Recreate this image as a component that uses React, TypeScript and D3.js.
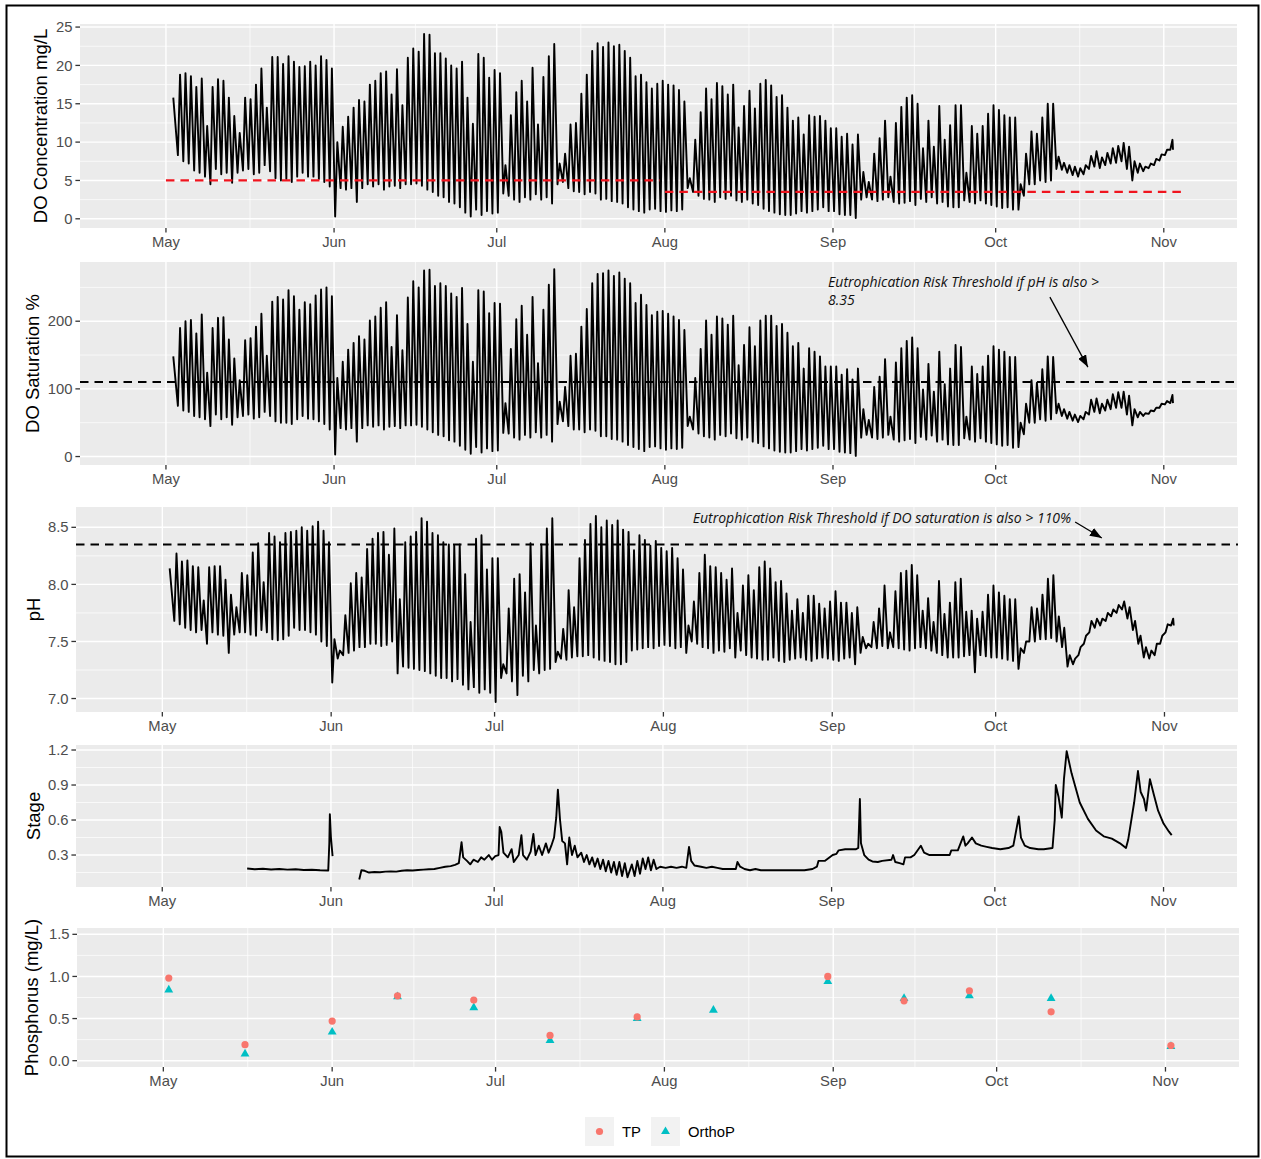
import React from 'react';
import * as d3 from 'd3';

// ---------- readings taken off the figure (day 0 = 1 May) ----------

// one early-morning low and one afternoon high per day, 3 May (day 2) .. 3 Nov
const cycleFirstDay = 2;
const firstReadingDay = 1.35;

const doConcFirst = 15.8;
const doConcLast = 9.0;
const doConcHigh = [
  18.8, 19.0, 18.6, 17.2, 18.3, 12.1, 17.2, 18.2, 18.0, 15.8,
  13.4, 11.2, 15.8, 15.6, 17.5, 19.6, 14.5, 21.1, 21.1, 20.2,
  21.2, 20.5, 19.8, 19.9, 20.5, 20.0, 21.2, 20.7, 19.6, 10.0,
  12.0, 13.3, 14.5, 15.5, 15.3, 17.5, 18.0, 19.0, 19.2, 16.2,
  19.5, 14.8, 21.0, 22.2, 21.8, 24.1, 24.0, 21.6, 21.6, 20.9,
  20.0, 19.6, 20.5, 15.8, 12.4, 21.5, 21.0, 18.4, 19.4, 19.0,
  7.0, 13.5, 16.5, 18.0, 15.3, 19.7, 12.3, 18.5, 21.2, 22.8,
  7.2, 8.5, 12.3, 12.5, 16.3, 18.8, 21.9, 22.9, 22.4, 23.0,
  22.5, 22.7, 21.9, 21.0, 18.6, 18.8, 17.8, 17.0, 17.6, 18.0,
  17.5, 17.4, 16.8, 15.3, 5.3, 10.3, 13.9, 17.0, 15.6, 17.7,
  17.3, 16.2, 17.5, 11.9, 14.7, 16.7, 14.4, 17.6, 18.1, 17.4,
  15.9, 16.1, 14.5, 12.8, 13.2, 11.0, 13.5, 13.3, 13.4, 12.8,
  11.8, 11.8, 10.7, 11.1, 9.7, 11.0, 6.1, 4.8, 8.5, 10.5,
  12.8, 5.5, 12.5, 14.6, 15.8, 16.1, 15.0, 9.2, 12.8, 9.4,
  14.7, 10.3, 12.2, 14.8, 14.8, 6.0, 12.1, 11.1, 12.1, 13.7,
  14.8, 14.2, 13.5, 13.2, 13.2, 4.5, 8.5, 11.4, 11.1, 13.2,
  15.0, 15.0, 8.1, 7.3, 7.0, 6.8, 6.6, 7.0, 8.2, 8.8,
  8.0, 8.6, 9.2, 9.5, 9.9, 9.4, 7.5, 7.2, 6.8, 7.2,
  7.8, 8.4, 9.0, 10.3,
];
const doConcLow = [
  8.3, 7.5, 7.2, 6.3, 6.0, 5.5, 4.5, 6.5, 5.8, 6.0,
  4.7, 6.0, 6.3, 6.5, 5.8, 6.0, 7.0, 6.2, 5.3, 5.0,
  5.2, 4.8, 5.5, 6.0, 5.5, 5.5, 5.2, 4.8, 4.2, 0.3,
  4.0, 3.8, 4.0, 2.2, 4.0, 4.5, 4.2, 4.5, 3.8, 4.2,
  4.3, 4.0, 4.5, 4.5, 4.6, 4.3, 3.8, 3.5, 3.0, 2.8,
  2.2, 2.0, 1.5, 0.8, 0.3, 1.2, 0.5, 1.0, 0.7, 0.8,
  3.3, 3.0, 2.5, 2.2, 2.8, 2.5, 3.2, 2.5, 2.8, 2.0,
  4.5, 4.8, 4.0, 3.6, 3.5, 3.2, 3.5, 3.3, 2.5, 2.6,
  2.3, 2.2, 2.0, 1.5, 1.2, 1.0, 0.8, 1.2, 1.3, 1.0,
  0.9, 1.1, 1.0, 1.2, 4.0, 3.5, 3.0, 2.6, 2.5, 2.2,
  2.8, 2.6, 3.0, 2.4, 2.2, 2.5, 2.0, 1.8, 1.3, 1.0,
  0.8, 0.6, 0.5, 0.5, 0.7, 1.0, 0.8, 1.0, 1.2, 1.5,
  1.0, 1.0, 0.6, 0.5, 0.5, 0.1, 2.5, 2.8, 2.5, 2.3,
  2.5, 2.8, 2.2, 2.0, 2.1, 2.3, 1.8, 2.6, 2.2, 2.8,
  2.0, 2.2, 1.6, 1.5, 1.5, 2.4, 2.2, 2.0, 2.4, 2.0,
  1.8, 1.6, 1.4, 1.5, 1.2, 1.2, 3.0, 4.5, 4.5, 5.0,
  4.8, 5.0, 6.5, 6.4, 6.0, 5.7, 5.5, 5.8, 6.5, 6.8,
  6.6, 7.0, 7.2, 7.3, 7.5, 6.5, 5.0, 6.0, 6.2, 6.6,
  7.0, 7.6, 8.3, 9.0,
];

const doSatFirst = 148;
const doSatLast = 79;
const doSatHigh = [
  190, 200, 202, 182, 210, 124, 190, 205, 206, 173,
  145, 113, 172, 175, 192, 211, 149, 229, 236, 232,
  246, 237, 217, 228, 225, 238, 247, 250, 237, 116,
  140, 158, 168, 178, 173, 201, 207, 220, 228, 162,
  209, 157, 235, 259, 250, 275, 276, 252, 256, 252,
  241, 236, 249, 196, 140, 246, 244, 212, 227, 226,
  79, 159, 203, 223, 180, 236, 138, 217, 254, 277,
  81, 103, 149, 152, 192, 218, 256, 270, 271, 275,
  267, 272, 263, 256, 227, 239, 224, 209, 214, 215,
  211, 207, 202, 187, 59, 116, 159, 201, 180, 207,
  204, 195, 208, 135, 165, 191, 163, 201, 208, 208,
  193, 196, 183, 163, 168, 130, 160, 155, 148, 133,
  133, 133, 121, 129, 114, 130, 70, 54, 103, 118,
  144, 59, 139, 160, 171, 176, 160, 99, 137, 96,
  155, 107, 130, 165, 162, 59, 133, 122, 133, 149,
  163, 158, 155, 147, 147, 50, 78, 113, 109, 129,
  148, 147, 78, 70, 66, 62, 60, 66, 84, 86,
  78, 84, 92, 95, 96, 90, 70, 66, 64, 68,
  72, 78, 82, 91,
];
const doSatLow = [
  75, 68, 66, 60, 58, 55, 45, 62, 55, 58,
  47, 58, 60, 62, 56, 58, 66, 60, 52, 50,
  50, 48, 55, 60, 56, 55, 52, 48, 40, 3,
  42, 40, 42, 22, 42, 46, 44, 46, 40, 44,
  45, 42, 46, 46, 47, 44, 40, 36, 32, 30,
  24, 22, 16, 10, 4, 14, 6, 12, 8, 9,
  35, 34, 28, 25, 32, 28, 36, 28, 32, 22,
  48, 52, 45, 40, 40, 36, 40, 38, 30, 30,
  26, 25, 22, 17, 14, 11, 8, 14, 15, 12,
  10, 12, 11, 13, 45, 40, 34, 30, 28, 25,
  32, 30, 34, 27, 25, 28, 22, 20, 15, 12,
  9, 7, 6, 6, 8, 11, 9, 11, 13, 16,
  11, 11, 7, 6, 5, 1, 28, 32, 28, 26,
  28, 32, 25, 22, 24, 26, 20, 29, 25, 31,
  22, 25, 18, 17, 17, 27, 25, 22, 27, 22,
  20, 18, 16, 17, 13, 14, 33, 50, 50, 55,
  53, 55, 64, 60, 56, 53, 51, 55, 62, 66,
  64, 68, 70, 72, 72, 62, 46, 58, 60, 63,
  67, 72, 77, 79,
];

const phFirst = 8.14;
const phLast = 7.64;
const phHigh = [
  8.27, 8.20, 8.21, 8.16, 8.15, 7.86, 8.15, 8.16, 8.16, 8.04,
  7.91, 7.80, 8.10, 8.08, 8.28, 8.36, 8.02, 8.45, 8.42, 8.37,
  8.45, 8.46, 8.47, 8.50, 8.47, 8.51, 8.55, 8.47, 8.37, 7.52,
  7.42, 7.73, 8.01, 8.10, 8.06, 8.31, 8.40, 8.45, 8.46, 8.26,
  8.49, 7.87, 8.37, 8.42, 8.46, 8.58, 8.55, 8.45, 8.43, 8.37,
  8.35, 8.34, 8.35, 8.09, 7.67, 8.40, 8.43, 8.13, 8.23, 8.23,
  7.30, 7.79, 8.05, 8.09, 7.93, 8.36, 7.64, 8.35, 8.49, 8.58,
  7.41, 7.61, 7.95, 7.80, 8.23, 8.39, 8.53, 8.60, 8.50, 8.56,
  8.52, 8.56, 8.48, 8.46, 8.30, 8.43, 8.39, 8.34, 8.38, 8.32,
  8.29, 8.32, 8.23, 8.13, 7.64, 7.85, 8.10, 8.26, 8.16, 8.15,
  8.10, 8.04, 8.14, 7.75, 7.99, 8.08, 7.95, 8.15, 8.20, 8.14,
  8.02, 8.03, 7.92, 7.77, 7.87, 7.75, 7.90, 7.90, 7.83, 7.79,
  7.85, 7.94, 7.84, 7.84, 7.75, 7.80, 7.54, 7.48, 7.67, 7.79,
  7.99, 7.58, 7.94, 8.10, 8.12, 8.17, 8.08, 7.77, 7.88, 7.67,
  8.03, 7.74, 7.84, 8.02, 8.05, 7.76, 7.77, 7.70, 7.76, 7.91,
  7.99, 7.93, 7.90, 7.87, 7.87, 7.44, 7.50, 7.80, 7.79, 7.91,
  8.05, 8.08, 7.72, 7.62, 7.38, 7.35, 7.45, 7.55, 7.68, 7.70,
  7.70, 7.75, 7.78, 7.82, 7.85, 7.80, 7.68, 7.55, 7.45, 7.42,
  7.48, 7.55, 7.65, 7.70,
];
const phLow = [
  7.68, 7.65, 7.62, 7.60, 7.58, 7.60, 7.48, 7.58, 7.56, 7.55,
  7.40, 7.56, 7.58, 7.58, 7.56, 7.55, 7.60, 7.58, 7.52, 7.51,
  7.52, 7.55, 7.62, 7.60, 7.60, 7.58, 7.56, 7.50, 7.46, 7.14,
  7.35, 7.38, 7.40, 7.42, 7.45, 7.45, 7.48, 7.48, 7.46, 7.47,
  7.50, 7.22, 7.28, 7.27, 7.26, 7.25, 7.24, 7.22, 7.20, 7.18,
  7.18, 7.15, 7.17, 7.12, 7.08, 7.10, 7.05, 7.08, 7.05, 6.97,
  7.18, 7.22, 7.15, 7.03, 7.20, 7.15, 7.25, 7.22, 7.25, 7.26,
  7.32, 7.35, 7.34, 7.36, 7.37, 7.37, 7.38, 7.36, 7.34, 7.33,
  7.32, 7.30, 7.30, 7.32, 7.42, 7.43, 7.44, 7.45, 7.44, 7.46,
  7.47, 7.46, 7.44, 7.45, 7.40, 7.50, 7.48, 7.45, 7.44, 7.40,
  7.42, 7.41, 7.44, 7.36, 7.42, 7.38, 7.36, 7.35, 7.34, 7.34,
  7.36, 7.33, 7.32, 7.34, 7.35, 7.36, 7.34, 7.33, 7.35, 7.36,
  7.35, 7.34, 7.33, 7.35, 7.36, 7.30, 7.40, 7.44, 7.45, 7.44,
  7.46, 7.44, 7.45, 7.44, 7.43, 7.42, 7.44, 7.45, 7.44, 7.42,
  7.40, 7.38, 7.36, 7.36, 7.36, 7.37, 7.38, 7.23, 7.38, 7.37,
  7.36, 7.36, 7.35, 7.34, 7.33, 7.26, 7.40, 7.50, 7.50, 7.52,
  7.52, 7.53, 7.50, 7.45, 7.28, 7.30, 7.38, 7.48, 7.58, 7.62,
  7.64, 7.68, 7.72, 7.75, 7.78, 7.70, 7.60, 7.48, 7.36, 7.35,
  7.38, 7.48, 7.58, 7.64,
];

// stage logger (null = gap in record)
const stageDay = [
  15.6, 17.0, 18.5, 20.0, 21.5, 23.0, 24.5, 26.0, 27.5, 29.0, 30.5, 30.7, 30.8, 31.0, 31.3,
  33.0,
  36.2, 36.6, 37.2, 38.0, 39.0, 40.0, 41.0, 42.0, 43.0, 44.0, 45.0, 46.0, 47.0, 48.0, 49.0,
  50.0, 51.0, 52.0, 53.0, 53.8, 54.5, 55.0, 55.3, 56.0, 56.6, 57.2, 58.0, 58.6, 59.2, 60.0,
  60.6, 61.2, 61.8, 62.0, 62.3, 62.7, 63.5, 64.2, 64.6, 65.5, 66.0, 66.3, 67.0, 67.7, 68.2,
  68.6, 69.2, 69.8, 70.5, 71.0, 71.5, 72.0, 72.4, 72.7, 73.1, 73.5, 74.0, 74.4, 74.8, 75.3,
  75.8, 76.3, 77.0, 77.5, 78.0, 78.5, 79.0, 79.5, 80.0, 80.5, 81.0, 81.5, 82.0, 82.5, 83.0,
  83.5, 84.0, 84.5, 85.0, 85.5, 86.3, 86.8, 87.3, 87.8, 88.3, 88.8, 89.3, 89.8, 90.3, 90.8,
  91.5, 92.5, 93.5, 94.5, 95.5, 96.3, 96.8, 97.2, 97.8, 99.0, 100.0, 101.0, 102.0, 103.0,
  104.0, 105.4, 105.7, 106.2, 107.0, 108.0, 109.0, 110.0, 112.0, 114.0, 116.0, 118.0, 119.5,
  120.3, 120.6, 121.8, 123.2, 123.9, 124.3, 125.5, 127.5, 127.9, 128.2, 128.4, 129.0, 129.8,
  130.5, 131.5, 132.3, 134.0, 134.3, 134.7, 135.5, 136.2, 136.5, 137.5, 138.2, 139.4, 140.0,
  141.0, 143.0, 144.7, 145.0, 146.2, 147.2, 147.6, 148.0, 148.8, 149.5, 150.5, 151.5, 152.5,
  154.0, 155.5, 156.4, 157.4, 157.8, 158.5, 159.5, 161.0, 162.0, 163.6, 164.0, 164.2, 164.7,
  165.3, 165.7, 166.2, 167.1, 168.6, 170.1, 171.6, 173.0, 174.5, 176.0, 177.1, 177.5, 178.6,
  179.3, 179.8, 180.4, 180.8, 181.5, 182.2, 183.0, 184.0, 185.0, 185.5,
];
const stageValue = [
  0.185, 0.178, 0.182, 0.176, 0.180, 0.175, 0.178, 0.172, 0.174, 0.170, 0.168, 0.40, 0.65, 0.45, 0.29,
  null,
  0.09, 0.17, 0.165, 0.150, 0.155, 0.152, 0.158, 0.160, 0.158, 0.165, 0.170, 0.168, 0.172, 0.175, 0.178,
  0.180, 0.190, 0.200, 0.205, 0.215, 0.230, 0.41, 0.28, 0.25, 0.22, 0.26, 0.24, 0.28, 0.26, 0.30,
  0.26, 0.29, 0.30, 0.54, 0.50, 0.32, 0.28, 0.35, 0.24, 0.30, 0.47, 0.30, 0.26, 0.33, 0.48,
  0.30, 0.38, 0.30, 0.40, 0.32, 0.38, 0.45, 0.62, 0.86, 0.60, 0.42, 0.40, 0.22, 0.45, 0.30,
  0.38, 0.28, 0.32, 0.24, 0.30, 0.22, 0.28, 0.20, 0.27, 0.18, 0.26, 0.16, 0.25, 0.15, 0.24,
  0.13, 0.24, 0.12, 0.23, 0.11, 0.22, 0.12, 0.25, 0.14, 0.27, 0.18, 0.28, 0.17, 0.26, 0.18,
  0.20, 0.19, 0.20, 0.19, 0.20, 0.19, 0.37, 0.25, 0.21, 0.20, 0.19, 0.20, 0.19, 0.18,
  0.18, 0.18, 0.24, 0.20, 0.18, 0.17, 0.18, 0.17, 0.17, 0.17, 0.17, 0.17, 0.18,
  0.20, 0.25, 0.25, 0.30, 0.31, 0.34, 0.35, 0.35, 0.36, 0.78, 0.40, 0.30, 0.26,
  0.245, 0.24, 0.25, 0.26, 0.30, 0.24, 0.23, 0.22, 0.28, 0.28, 0.30, 0.38, 0.32,
  0.30, 0.30, 0.30, 0.34, 0.34, 0.46, 0.38, 0.40, 0.45, 0.40, 0.38, 0.37, 0.36,
  0.35, 0.36, 0.38, 0.63, 0.45, 0.38, 0.36, 0.35, 0.35, 0.36, 0.60, 0.90, 0.80,
  0.62, 0.95, 1.19, 1.00, 0.75, 0.61, 0.51, 0.46, 0.44, 0.40, 0.36, 0.43, 0.75,
  1.02, 0.84, 0.78, 0.68, 0.95, 0.82, 0.68, 0.57, 0.50, 0.47,
];

// grab samples
const sampleDates = [
  '2022-05-02', '2022-05-16', '2022-06-01', '2022-06-13', '2022-06-27', '2022-07-11', '2022-07-27',
  '2022-08-10', '2022-08-31', '2022-09-14', '2022-09-26', '2022-10-11', '2022-11-02',
];
const tpValues = [0.98, 0.19, 0.47, 0.77, 0.72, 0.30, 0.52, null, 1.00, 0.71, 0.83, 0.58, 0.18];
const orthoPValues = [0.84, 0.08, 0.34, 0.76, 0.63, 0.24, 0.50, 0.60, 0.94, 0.74, 0.77, 0.74, 0.17];

// guideline values
const doLimitFrom = [0, 92];
const doLimitTo = [91, 187.3];
const doLimitValue = [5, 3.5];
const satLimit = 110;
const phLimit = 8.35;

const monthLabels = ['May', 'Jun', 'Jul', 'Aug', 'Sep', 'Oct', 'Nov'];

// ---------------------------------------------------------------

const SANS = '"Liberation Sans", Arial, sans-serif';
const NOTE = '"Open Sans", Lato, sans-serif';
const parseDay = d3.timeParse('%Y-%m-%d');
const may1 = parseDay('2022-05-01') as Date;
const atDay = (d: number) => d3.timeMinute.offset(may1, Math.round(d * 1440));
const xFrom = atDay(-15.85);
const xTo = atDay(197.5);
const months = d3.timeMonth.range(may1, atDay(185));
const minorMonths = months.slice(1).map((m, i) => new Date((m.getTime() + months[i].getTime()) / 2));

type Pt = { t: Date; v: number | null };

function dailyCycle(first: number, lows: number[], highs: number[], last: number): Pt[] {
  const pts: Pt[] = [{ t: atDay(firstReadingDay), v: first }];
  lows.forEach((lo, i) => {
    pts.push({ t: atDay(cycleFirstDay + i + 0.2), v: lo });
    pts.push({ t: atDay(cycleFirstDay + i + 0.6), v: highs[i] });
  });
  pts.push({ t: atDay(cycleFirstDay + lows.length - 0.3), v: last });
  return pts;
}

const concSeries = dailyCycle(doConcFirst, doConcLow, doConcHigh, doConcLast);
const satSeries = dailyCycle(doSatFirst, doSatLow, doSatHigh, doSatLast);
const phSeries = dailyCycle(phFirst, phLow, phHigh, phLast);
const stageSeries: Pt[] = stageDay.map((d, i) => ({ t: atDay(d), v: stageValue[i] }));

type Box = { left: number; right: number; top: number; bottom: number };

function Panel(props: {
  box: Box; yDomain: [number, number]; yTicks: number[]; yMinor: number[];
  fmt: (v: number) => string; title: string; titleX: number;
  children: (x: d3.ScaleTime<number, number>, y: d3.ScaleLinear<number, number>) => React.ReactNode;
}) {
  const { box, yDomain, yTicks, yMinor, fmt, title, titleX, children } = props;
  const x = d3.scaleTime().domain([xFrom, xTo]).range([box.left, box.right]);
  const y = d3.scaleLinear().domain(yDomain).range([box.bottom, box.top]);
  const midY = (box.top + box.bottom) / 2;
  return (
    <g>
      <rect x={box.left} y={box.top} width={box.right - box.left} height={box.bottom - box.top} fill="#EBEBEB" />
      {yMinor.map((v) => (
        <line key={'ym' + v} x1={box.left} x2={box.right} y1={y(v)} y2={y(v)} stroke="#fff" strokeWidth={0.7} />
      ))}
      {minorMonths.map((m, i) => (
        <line key={'xm' + i} x1={x(m)} x2={x(m)} y1={box.top} y2={box.bottom} stroke="#fff" strokeWidth={0.7} />
      ))}
      {yTicks.map((v) => (
        <line key={'yM' + v} x1={box.left} x2={box.right} y1={y(v)} y2={y(v)} stroke="#fff" strokeWidth={1.4} />
      ))}
      {months.map((m, i) => (
        <line key={'xM' + i} x1={x(m)} x2={x(m)} y1={box.top} y2={box.bottom} stroke="#fff" strokeWidth={1.4} />
      ))}
      {children(x, y)}
      {yTicks.map((v) => (
        <g key={'yt' + v}>
          <line x1={box.left - 4.6} x2={box.left} y1={y(v)} y2={y(v)} stroke="#333" strokeWidth={1.3} />
          <text x={box.left - 7.5} y={y(v)} dy="0.35em" textAnchor="end" fontSize={14.8} fill="#4D4D4D" fontFamily={SANS}>
            {fmt(v)}
          </text>
        </g>
      ))}
      {months.map((m, i) => (
        <g key={'xt' + i}>
          <line x1={x(m)} x2={x(m)} y1={box.bottom} y2={box.bottom + 4.6} stroke="#333" strokeWidth={1.3} />
          <text x={x(m)} y={box.bottom + 19} textAnchor="middle" fontSize={14.8} fill="#4D4D4D" fontFamily={SANS}>
            {monthLabels[i]}
          </text>
        </g>
      ))}
      <text transform={`translate(${titleX},${midY}) rotate(-90)`} textAnchor="middle" dy="0.35em"
        fontSize={18.5} fill="#000" fontFamily={SANS}>
        {title}
      </text>
    </g>
  );
}

function linePath(x: d3.ScaleTime<number, number>, y: d3.ScaleLinear<number, number>, pts: Pt[]) {
  return d3.line<Pt>()
    .defined((p) => p.v !== null)
    .x((p) => x(p.t))
    .y((p) => y(p.v as number))(pts) || '';
}

const intTick = (v: number) => d3.format('d')(v);
const oneDec = (v: number) => d3.format('.1f')(v);
const range = (a: number, b: number, s: number) => d3.range(a, b + s / 2, s);
const LINE_W = 1.9;
const NOTE_SIZE = 14;

export default function App() {
  const triangle = d3.symbol().type(d3.symbolTriangle).size(34)() || '';
  return (
    <svg width={1261} height={1159} style={{ position: 'absolute', left: 0, top: 0, background: '#fff' }}>
      <defs>
        <marker id="head" viewBox="0 0 12 9" refX="12" refY="4.5" markerWidth="12" markerHeight="9"
          markerUnits="userSpaceOnUse" orient="auto">
          <path d="M0,0 L12,4.5 L0,9 z" fill="#000" />
        </marker>
      </defs>
      <rect x={0} y={0} width={1261} height={1159} fill="#fff" />

      <Panel box={{ left: 80, right: 1237, top: 24, bottom: 228 }} yDomain={[-1.2, 25.4]}
        yTicks={range(0, 25, 5)} yMinor={range(2.5, 22.5, 5)} fmt={intTick}
        title="DO Concentration mg/L" titleX={41}>
        {(x, y) => (
          <g>
            <path d={linePath(x, y, concSeries)} fill="none" stroke="#000" strokeWidth={LINE_W} strokeLinejoin="round" />
            {doLimitValue.map((v, i) => (
              <line key={i} x1={x(atDay(doLimitFrom[i]))} x2={x(atDay(doLimitTo[i]))} y1={y(v)} y2={y(v)}
                stroke="#F0141E" strokeWidth={2.3} strokeDasharray="8.5,6" />
            ))}
          </g>
        )}
      </Panel>

      <Panel box={{ left: 80, right: 1237, top: 262, bottom: 465 }} yDomain={[-12.5, 287.5]}
        yTicks={[0, 100, 200]} yMinor={[50, 150, 250]} fmt={intTick}
        title="DO Saturation %" titleX={33}>
        {(x, y) => (
          <g>
            <path d={linePath(x, y, satSeries)} fill="none" stroke="#000" strokeWidth={LINE_W} strokeLinejoin="round" />
            <line x1={80} x2={1237} y1={y(satLimit)} y2={y(satLimit)} stroke="#000" strokeWidth={2} strokeDasharray="8.5,6" />
            <text x={x(atDay(122.1))} y={y(257.8)} dy="0.35em" fontFamily={NOTE} fontStyle="italic" fontSize={NOTE_SIZE} fill="#111">
              Eutrophication Risk Threshold if pH is also &gt;
            </text>
            <text x={x(atDay(122.1))} y={y(231.2)} dy="0.35em" fontFamily={NOTE} fontStyle="italic" fontSize={NOTE_SIZE} fill="#111">
              8.35
            </text>
            <line x1={x(atDay(163.0))} y1={y(235.6)} x2={x(atDay(170.0))} y2={y(132.2)} stroke="#000"
              strokeWidth={1.3} markerEnd="url(#head)" />
          </g>
        )}
      </Panel>

      <Panel box={{ left: 76, right: 1238, top: 507, bottom: 712 }} yDomain={[6.882, 8.678]}
        yTicks={[7, 7.5, 8, 8.5]} yMinor={[7.25, 7.75, 8.25]} fmt={oneDec}
        title="pH" titleX={34}>
        {(x, y) => (
          <g>
            <path d={linePath(x, y, phSeries)} fill="none" stroke="#000" strokeWidth={LINE_W} strokeLinejoin="round" />
            <line x1={76} x2={1238} y1={y(phLimit)} y2={y(phLimit)} stroke="#000" strokeWidth={2} strokeDasharray="8.5,6" />
            <text x={x(atDay(97.4))} y={y(8.582)} dy="0.35em" fontFamily={NOTE} fontStyle="italic" fontSize={NOTE_SIZE} fill="#111">
              Eutrophication Risk Threshold if DO saturation is also &gt; 110%
            </text>
            <line x1={x(atDay(167.6))} y1={y(8.547)} x2={x(atDay(172.5))} y2={y(8.406)} stroke="#000"
              strokeWidth={1.3} markerEnd="url(#head)" />
          </g>
        )}
      </Panel>

      <Panel box={{ left: 76, right: 1237, top: 745, bottom: 887 }} yDomain={[0.026, 1.243]}
        yTicks={[0.3, 0.6, 0.9, 1.2]} yMinor={[0.15, 0.45, 0.75, 1.05]} fmt={oneDec}
        title="Stage" titleX={34}>
        {(x, y) => (
          <path d={linePath(x, y, stageSeries)} fill="none" stroke="#000" strokeWidth={LINE_W} strokeLinejoin="round" />
        )}
      </Panel>

      <Panel box={{ left: 77, right: 1239, top: 928, bottom: 1067 }} yDomain={[-0.075, 1.575]}
        yTicks={[0, 0.5, 1, 1.5]} yMinor={[0.25, 0.75, 1.25]} fmt={oneDec}
        title="Phosphorus (mg/L)" titleX={32}>
        {(x, y) => (
          <g>
            {sampleDates.map((d, i) => orthoPValues[i] === null ? null : (
              <path key={'o' + i} d={triangle} fill="#00BFC4"
                transform={`translate(${x(parseDay(d) as Date)},${y(orthoPValues[i] as number)})`} />
            ))}
            {sampleDates.map((d, i) => tpValues[i] === null ? null : (
              <circle key={'t' + i} cx={x(parseDay(d) as Date)} cy={y(tpValues[i] as number)} r={3.6} fill="#F8766D" />
            ))}
          </g>
        )}
      </Panel>

      {/* legend */}
      <g fontFamily={SANS} fontSize={14.8} fill="#000">
        <rect x={585} y={1117} width={29} height={29} fill="#F2F2F2" />
        <circle cx={599.5} cy={1131.5} r={3.6} fill="#F8766D" />
        <text x={622} y={1131.5} dy="0.35em">TP</text>
        <rect x={651} y={1117} width={29} height={29} fill="#F2F2F2" />
        <path d={triangle} transform="translate(665.5,1131.5)" fill="#00BFC4" />
        <text x={688} y={1131.5} dy="0.35em">OrthoP</text>
      </g>

      <rect x={6.5} y={5.5} width={1252} height={1151} fill="none" stroke="#000" strokeWidth={2} />
    </svg>
  );
}
